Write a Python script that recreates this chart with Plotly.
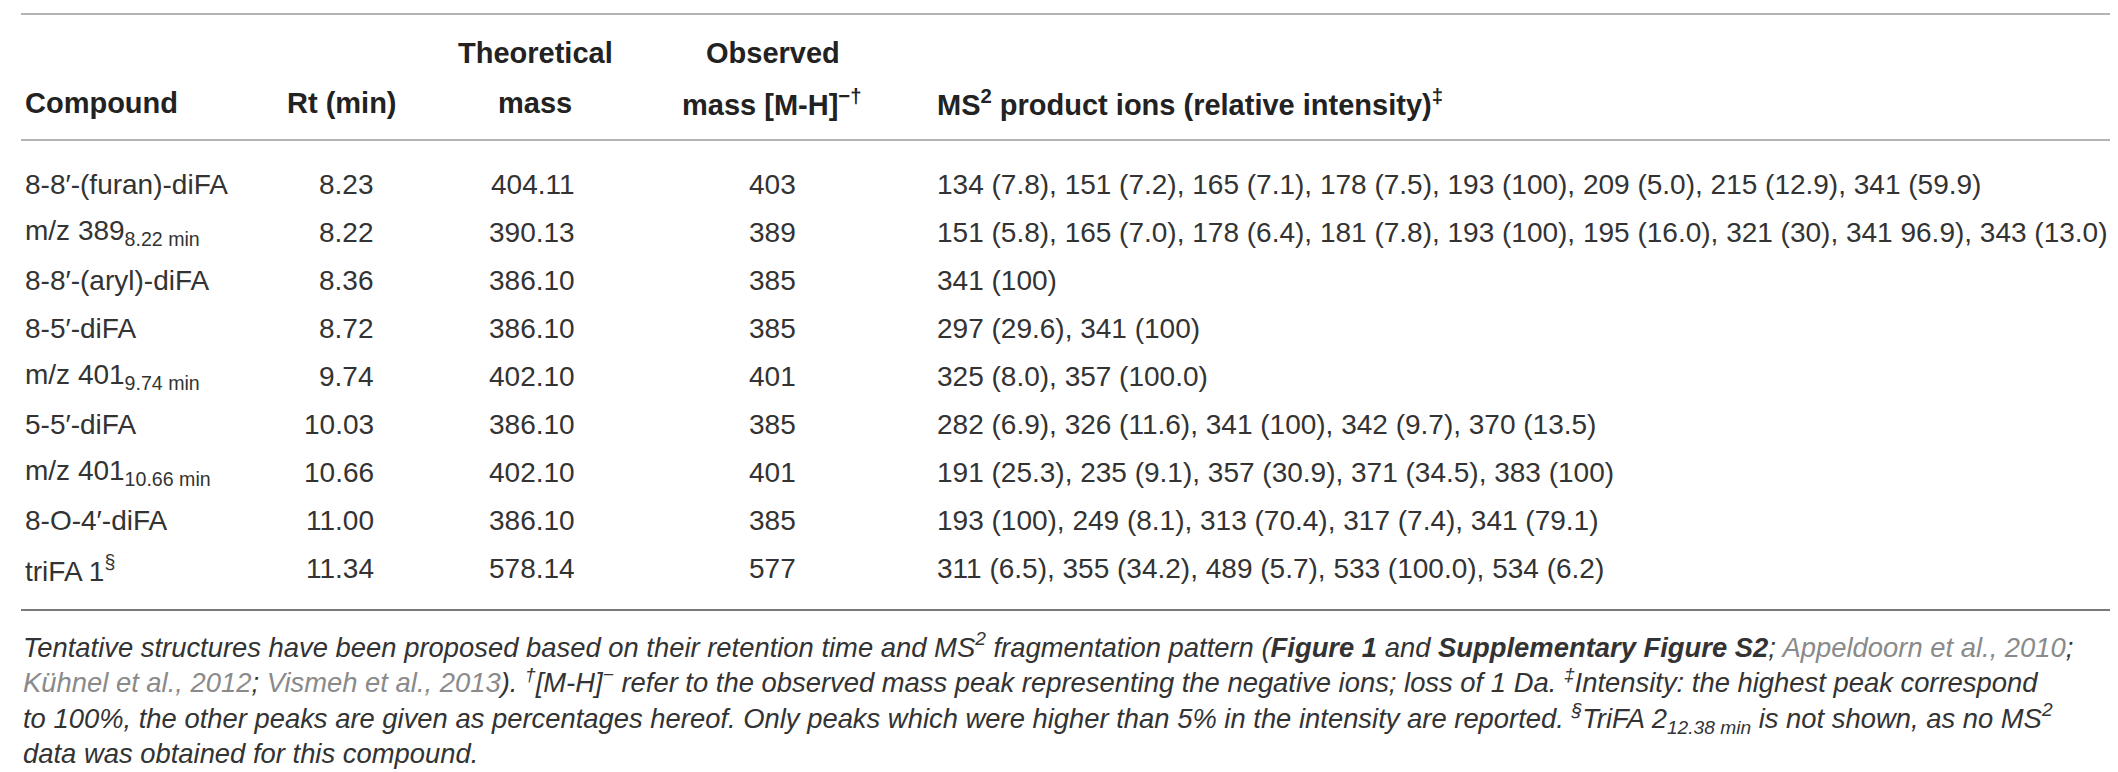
import plotly.graph_objects as go

W, H = 2118, 772

# table data
compounds = ["8-8′-(furan)-diFA", "m/z 389<sub>8.22 min</sub>", "8-8′-(aryl)-diFA",
             "8-5′-diFA", "m/z 401<sub>9.74 min</sub>", "5-5′-diFA",
             "m/z 401<sub>10.66 min</sub>", "8-O-4′-diFA", "triFA 1<sup>§</sup>"]
rt_min = [8.23, 8.22, 8.36, 8.72, 9.74, 10.03, 10.66, 11.00, 11.34]
theoretical_mass = [404.11, 390.13, 386.10, 386.10, 402.10, 386.10, 402.10, 386.10, 578.14]
observed_mass = [403, 389, 385, 385, 401, 385, 401, 385, 577]
ms2_ions = [
    "134 (7.8), 151 (7.2), 165 (7.1), 178 (7.5), 193 (100), 209 (5.0), 215 (12.9), 341 (59.9)",
    "151 (5.8), 165 (7.0), 178 (6.4), 181 (7.8), 193 (100), 195 (16.0), 321 (30), 341 96.9), 343 (13.0)",
    "341 (100)",
    "297 (29.6), 341 (100)",
    "325 (8.0), 357 (100.0)",
    "282 (6.9), 326 (11.6), 341 (100), 342 (9.7), 370 (13.5)",
    "191 (25.3), 235 (9.1), 357 (30.9), 371 (34.5), 383 (100)",
    "193 (100), 249 (8.1), 313 (70.4), 317 (7.4), 341 (79.1)",
    "311 (6.5), 355 (34.2), 489 (5.7), 533 (100.0), 534 (6.2)",
]

ref = "<span style='color:#8a8a8a'>%s</span>"
footnote = [
    "Tentative structures have been proposed based on their retention time and MS<sup>2</sup> fragmentation pattern "
    "(<b>Figure 1</b> and <b>Supplementary Figure S2</b>; " + ref % "Appeldoorn et al., 2010" + ";",
    ref % "Kühnel et al., 2012" + "; " + ref % "Vismeh et al., 2013" + "). <sup>†</sup>[M-H]<sup>−</sup> refer to the "
    "observed mass peak representing the negative ions; loss of 1 Da. <sup>‡</sup>Intensity: the highest peak correspond",
    "to 100%, the other peaks are given as percentages hereof. Only peaks which were higher than 5% in the intensity "
    "are reported. <sup>§</sup>TriFA 2<sub>12.38 min</sub> is not shown, as no MS<sup>2</sup>",
    "data was obtained for this compound.",
]

FONT = "Liberation Sans, Arial, sans-serif"
TXT = "#333333"
BODY = 28
HEAD = 29

fig = go.Figure()
ann = []

def add(x, y, text, xanchor="left", size=BODY, color=TXT):
    ann.append(dict(x=x, y=y, text=text, xanchor=xanchor, yanchor="middle", showarrow=False,
                    align="left", font=dict(family=FONT, size=size, color=color), xref="x", yref="y"))

# header
hy1, hy2 = 45, 95
add(15, hy2, "<b>Compound</b>", size=HEAD, color="#222222")
add(334, hy2, "<b>Rt (min)</b>", "center", size=HEAD, color="#222222")
add(527, hy1, "<b>Theoretical</b>", "center", size=HEAD, color="#222222")
add(527, hy2, "<b>mass</b>", "center", size=HEAD, color="#222222")
add(765, hy1, "<b>Observed</b>", "center", size=HEAD, color="#222222")
add(763, hy2, "<b>mass [M-H]<sup>−†</sup></b>", "center", size=HEAD, color="#222222")
add(927, hy2, "<b>MS<sup>2</sup> product ions (relative intensity)<sup>‡</sup></b>", size=HEAD, color="#222222")

# rows
y0, dy = 176, 48.1
for i in range(len(compounds)):
    y = y0 + dy * i
    add(15, y, compounds[i])
    add(368, y, "%.2f" % rt_min[i], "right")
    add(569, y, "%.2f" % theoretical_mass[i], "right")
    add(764, y, str(observed_mass[i]), "center")
    add(927, y, ms2_ions[i])

# footnote as one block
add(13, 690, "<i>" + "<br>".join(footnote) + "</i>", size=27.4)

shapes = [
    dict(type="line", x0=13, x1=2103, y0=6, y1=6, line=dict(color="#b4b4b4", width=2)),
    dict(type="line", x0=13, x1=2103, y0=132, y1=132, line=dict(color="#b4b4b4", width=2)),
    dict(type="line", x0=13, x1=2103, y0=602, y1=602, line=dict(color="#7a7a7a", width=2)),
]

fig.update_layout(
    width=W, height=H,
    margin=dict(l=0, r=0, t=0, b=0),
    paper_bgcolor="white", plot_bgcolor="white",
    xaxis=dict(range=[0, W], visible=False, fixedrange=True),
    yaxis=dict(range=[H, 0], visible=False, fixedrange=True),
    annotations=ann, shapes=shapes, showlegend=False,
)

fig.write_html("out.html")
